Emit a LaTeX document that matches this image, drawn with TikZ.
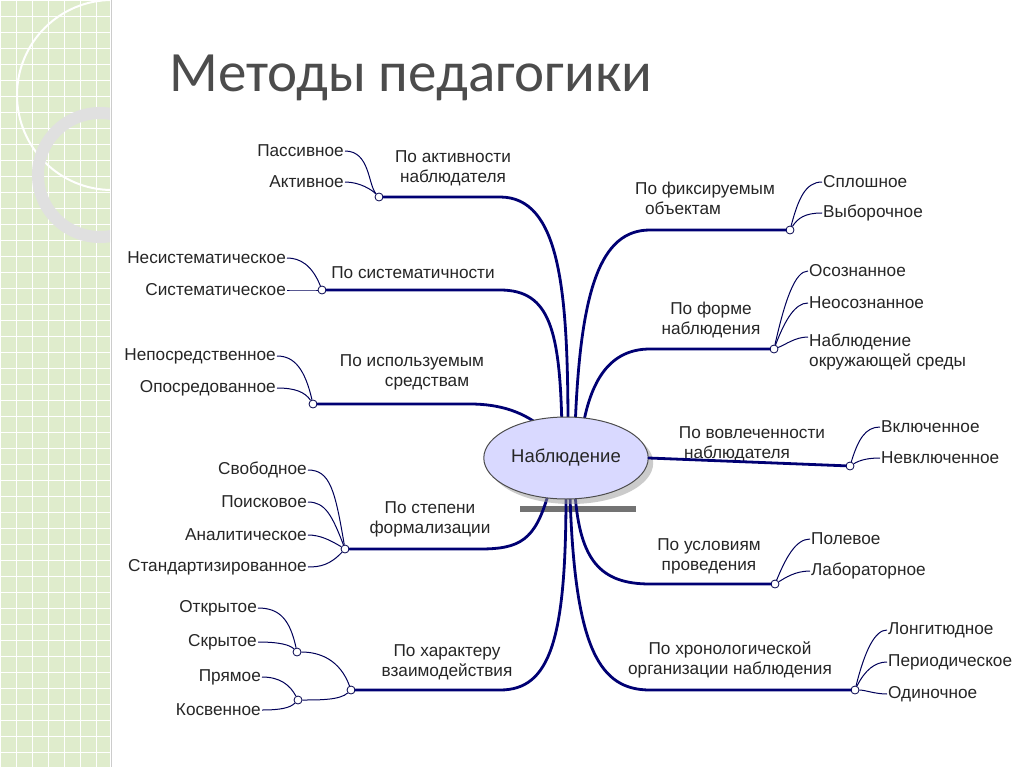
\documentclass[tikz,border=0pt]{standalone}
\usepackage{fontspec}
\setmainfont{Liberation Sans}
\newfontfamily\titlefont{Carlito}
\usetikzlibrary{shapes.geometric,shadows}
\begin{document}
\begin{tikzpicture}[x=1pt,y=-1pt,
  lbl/.style={font=\fontsize{17.2}{20}\selectfont,text=black!85,inner sep=1pt,align=center},
  leaf/.style={lbl,anchor=east},
  rleaf/.style={lbl,anchor=west},
  jn/.style={circle,draw=blue!30!black,fill=white,line width=0.8pt,inner sep=0pt,minimum size=8pt},
  thin/.style={draw=blue!35!black,line width=1pt},
  thick/.style={draw=blue!45!black,line width=2.8pt,line cap=round}]
\useasboundingbox (0,0) rectangle (1024,767);
\fill[white] (0,0) rectangle (1024,767);
% left panel
\begin{scope}
\clip (0,0) rectangle (110,767);
\fill[green!25!olive!20!white] (0,0) rectangle (110,767);
\foreach \i in {0,16,...,767} \draw[white,line width=0.6pt] (0,\i) -- (110,\i);
\foreach \i in {0,16,...,110} \draw[white,line width=0.6pt] (\i,0) -- (\i,767);
\draw[white,line width=2pt] (112,95) circle[radius=95];
\draw[black!12!white,line width=12pt] (100,175) circle[radius=62];
\end{scope}
\draw[black!20,line width=1pt] (111,0) -- (111,767);
% title
\node[anchor=west,font=\titlefont\fontsize{57}{60}\selectfont,text=black!70] (title) at (166,78) {Методы педагогики};
% center
\fill[black!55] (520,506) rectangle (636,512);
% ---- left branches
\node[jn] (j1) at (379,197) {};
\draw[thick] (568,430) .. controls (568,290) and (560,197) .. (500,197) -- (j1);
\node[lbl] (l1) at (453,168) {По активности\\наблюдателя};
\node[leaf] (a1) at (345,151) {Пассивное};
\node[leaf] (a2) at (345,182) {Активное};
\draw[thin] (j1) .. controls (368,185) and (370,151) .. (a1.east);
\draw[thin] (j1) .. controls (372,190) and (360,182) .. (a2.east);

\node[jn] (j2) at (322,290) {};
\draw[thick] (562,430) .. controls (560,330) and (550,290) .. (500,290) -- (j2);
\node[lbl] (l2) at (413,273) {По систематичности};
\node[leaf] (b1) at (287,258) {Несистематическое};
\node[leaf] (b2) at (287,290) {Систематическое};
\draw[thin] (j2) .. controls (312,265) and (300,258) .. (b1.east);
\draw[thin] (j2) .. controls (310,290) and (300,290) .. (b2.east);

\node[jn] (j3) at (313,404) {};
\draw[thick] (545,430) .. controls (525,412) and (500,404) .. (470,404) -- (j3);
\node[lbl] (l3) at (412,372) {По используемым\\\hspace*{30pt}средствам};
\node[leaf] (d1) at (277,356) {Непосредственное};
\node[leaf] (d2) at (277,388) {Опосредованное};
\draw[thin] (j3) .. controls (305,370) and (295,356) .. (d1.east);
\draw[thin] (j3) .. controls (305,392) and (295,388) .. (d2.east);

\node[jn] (j4) at (345,549) {};
\draw[thick] (548,495) .. controls (535,540) and (520,549) .. (480,549) -- (j4);
\node[lbl] (l4) at (430,519) {По степени\\формализации};
\node[leaf] (e1) at (308,470) {Свободное};
\node[leaf] (e2) at (308,502) {Поисковое};
\node[leaf] (e3) at (308,535) {Аналитическое};
\node[leaf] (e4) at (308,567) {Стандартизированное};
\draw[thin] (j4) .. controls (335,490) and (330,470) .. (e1.east);
\draw[thin] (j4) .. controls (332,515) and (325,502) .. (e2.east);
\draw[thin] (j4) .. controls (330,540) and (320,535) .. (e3.east);
\draw[thin] (j4) .. controls (330,565) and (320,567) .. (e4.east);

\node[jn] (j5) at (351,690) {};
\draw[thick] (566,495) .. controls (566,640) and (550,690) .. (500,690) -- (j5);
\node[lbl] (l5) at (447,662) {По характеру\\взаимодействия};
\node[jn] (k1) at (297,652) {};
\node[jn] (k2) at (298,700) {};
\node[leaf] (f1) at (258,608) {Открытое};
\node[leaf] (f2) at (258,642) {Скрытое};
\node[leaf] (f3) at (262,677) {Прямое};
\node[leaf] (f4) at (262,710) {Косвенное};
\draw[thin] (k1) .. controls (290,620) and (280,608) .. (f1.east);
\draw[thin] (k1) .. controls (290,645) and (280,642) .. (f2.east);
\draw[thin] (k2) .. controls (290,685) and (280,677) .. (f3.east);
\draw[thin] (k2) .. controls (290,708) and (280,710) .. (f4.east);
\draw[thin] (j5) .. controls (340,660) and (320,652) .. (k1);
\draw[thin] (j5) .. controls (340,700) and (320,700) .. (k2);
% ---- right branches
\node[jn] (r1) at (790,230) {};
\draw[thick] (575,430) .. controls (580,290) and (600,230) .. (650,230) -- (r1);
\node[lbl] (m1) at (705,198) {По фиксируемым\\объектам\hspace*{44pt}};
\node[rleaf] (g1) at (822,182) {Сплошное};
\node[rleaf] (g2) at (822,213) {Выборочное};
\draw[thin] (r1) .. controls (798,200) and (805,182) .. (g1.west);
\draw[thin] (r1) .. controls (798,218) and (805,213) .. (g2.west);

\node[jn] (r2) at (774,349) {};
\draw[thick] (582,432) .. controls (590,380) and (610,349) .. (650,349) -- (r2);
\node[lbl] (m2) at (711,320) {По форме\\наблюдения};
\node[rleaf] (h1) at (808,271) {Осознанное};
\node[rleaf] (h2) at (808,303) {Неосознанное};
\node[rleaf,align=left] (h3) at (808,352) {Наблюдение\\окружающей среды};
\draw[thin] (r2) .. controls (785,300) and (795,271) .. (h1.west);
\draw[thin] (r2) .. controls (785,320) and (795,303) .. (h2.west);
\draw[thin] (r2) .. controls (785,345) and (795,337) .. (808,337);

\node[jn] (r3) at (850,466) {};
\node[lbl] (m3) at (752,444) {По вовлеченности\\наблюдателя\hspace*{30pt}};
\node[rleaf] (i1) at (880,427) {Включенное};
\node[rleaf] (i2) at (880,458) {Невключенное};
\draw[thin] (r3) .. controls (858,440) and (865,427) .. (i1.west);
\draw[thin] (r3) .. controls (860,460) and (868,458) .. (i2.west);

\node[jn] (r4) at (775,584) {};
\draw[thick] (575,494) .. controls (580,560) and (600,584) .. (650,584) -- (r4);
\node[lbl] (m4) at (709,556) {По условиям\\проведения};
\node[rleaf] (p1) at (810,539) {Полевое};
\node[rleaf] (p2) at (810,571) {Лабораторное};
\draw[thin] (r4) .. controls (785,560) and (795,539) .. (p1.west);
\draw[thin] (r4) .. controls (785,578) and (795,571) .. (p2.west);

\node[jn] (r5) at (855,690) {};
\draw[thick] (570,496) .. controls (575,650) and (600,690) .. (650,690) -- (r5);
\node[lbl] (m5) at (730,660) {По хронологической\\организации наблюдения};
\node[rleaf] (q1) at (887,630) {Лонгитюдное};
\node[rleaf] (q2) at (887,662) {Периодическое};
\node[rleaf] (q3) at (887,694) {Одиночное};
\draw[thin] (r5) .. controls (865,650) and (875,630) .. (q1.west);
\draw[thin] (r5) .. controls (865,670) and (875,662) .. (q2.west);
\draw[thin] (r5) .. controls (865,690) and (875,694) .. (q3.west);
% center node drawn last
\node[ellipse,draw=black!70,line width=1pt,fill=blue!15!white,minimum width=136pt,minimum height=82pt,
  font=\fontsize{18.5}{21}\selectfont,text=black!85,
  drop shadow={fill=black!40,shadow xshift=5pt,shadow yshift=-5pt}] (c) at (566,458) {Наблюдение};
\draw[thick] (c.east) -- (r3);
\end{tikzpicture}
\end{document}
